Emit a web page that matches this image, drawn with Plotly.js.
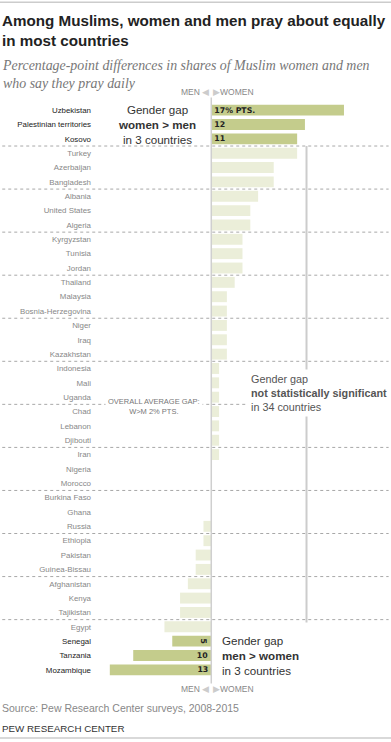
<!DOCTYPE html>
<html>
<head>
<meta charset="utf-8">
<script src="https://cdn.plot.ly/plotly-3.0.1.min.js"></script>
<style>
html,body{margin:0;padding:0;background:#fff;}
#chart{width:391px;height:742px;}
</style>
</head>
<body>
<div id="chart"></div>
<script>
const countries = ["Uzbekistan","Palestinian territories","Kosovo","Turkey","Azerbaijan","Bangladesh","Albania","United States","Algeria","Kyrgyzstan","Tunisia","Jordan","Thailand","Malaysia","Bosnia-Herzegovina","Niger","Iraq","Kazakhstan","Indonesia","Mali","Uganda","Chad","Lebanon","Djibouti","Iran","Nigeria","Morocco","Burkina Faso","Ghana","Russia","Ethiopia","Pakistan","Guinea-Bissau","Afghanistan","Kenya","Tajikistan","Egypt","Senegal","Tanzania","Mozambique"];
const gaps = [17,12,11,11,8,8,6,5,5,4,4,4,3,2,2,2,2,2,1,1,1,1,1,1,1,0,0,0,0,-1,-1,-2,-2,-3,-4,-4,-6,-5,-10,-13];
const significant = [1,1,1,0,0,0,0,0,0,0,0,0,0,0,0,0,0,0,0,0,0,0,0,0,0,0,0,0,0,0,0,0,0,0,0,0,0,1,1,1];
const barLabels = ["17% PTS.","12","11","","","","","","","","","","","","","","","","","","","","","","","","","","","","","","","","","","","5","10","13"];
const groupBreaks = [2.5,5.5,8.5,11.5,14.5,17.5,20.5,23.5,26.5,29.5,32.5,35.5];

const sigColor = "#c4cc8c", nsColor = "#ebeed9";
const sans = "Liberation Sans, Arial, sans-serif";

const trace = {
  type: "bar",
  orientation: "h",
  y: countries,
  x: gaps,
  width: 0.76,
  marker: {color: significant.map(s => s ? sigColor : nsColor), line: {width: 0}},
  text: barLabels,
  textposition: "inside",
  insidetextanchor: "start",
  constraintext: "none",
  textfont: {family: "DejaVu Sans", size: 7.8, color: "#222", weight: "bold"},
  hoverinfo: "none",
  cliponaxis: false
};

const shapes = [];
groupBreaks.forEach(b => shapes.push({
  type: "line", xref: "paper", yref: "y", x0: -0.355, x1: 1.02, y0: b, y1: b,
  line: {color: "#a8a8a8", width: 1, dash: "dot"}, layer: "below"
}));
shapes.push({type: "line", xref: "x", yref: "paper", x0: 0, x1: 0, y0: -0.008, y1: 1.006,
  line: {color: "#cfcfcf", width: 1.5}, layer: "above"});
shapes.push({type: "line", xref: "x", yref: "y", x0: 12.2, x1: 12.2, y0: 2.5, y1: 35.7,
  line: {color: "#cccccc", width: 2}, layer: "below"});
// top and bottom rules
shapes.push({type: "line", xref: "paper", yref: "paper", x0: -0.364, x1: 1.03, y0: 1.171, y1: 1.171, line: {color: "#cccccc", width: 1.5}});
shapes.push({type: "line", xref: "paper", yref: "paper", x0: -0.364, x1: 1.03, y0: -0.102, y1: -0.102, line: {color: "#cccccc", width: 1.5}});

const annotations = [
  {xref: "paper", yref: "paper", x: -0.362, y: 1.157, xanchor: "left", yanchor: "top", showarrow: false, align: "left",
   text: "<b>Among Muslims, women and men pray about equally<br>in most countries</b>",
   font: {family: sans, size: 15.2, color: "#222"}},
  {xref: "paper", yref: "paper", x: -0.362, y: 1.078, xanchor: "left", yanchor: "top", showarrow: false, align: "left",
   text: "<i>Percentage-point differences in shares of Muslim women and men<br>who say they pray daily</i>",
   font: {family: "Liberation Serif, Times New Roman, serif", size: 13.9, color: "#777"}},
  {xref: "x", yref: "paper", x: 0, y: 1.003, xanchor: "right", yanchor: "bottom", showarrow: false,
   text: "MEN <span style='color:#cccccc'>◀</span>", font: {family: sans, size: 8.5, color: "#888"}},
  {xref: "x", yref: "paper", x: 0, y: 1.003, xanchor: "left", yanchor: "bottom", showarrow: false,
   text: "<span style='color:#cccccc'>▶</span>WOMEN", font: {family: sans, size: 8.5, color: "#888"}},
  {xref: "x", yref: "paper", x: 0, y: -0.006, xanchor: "right", yanchor: "top", showarrow: false,
   text: "MEN <span style='color:#cccccc'>◀</span>", font: {family: sans, size: 8.5, color: "#888"}},
  {xref: "x", yref: "paper", x: 0, y: -0.006, xanchor: "left", yanchor: "top", showarrow: false,
   text: "<span style='color:#cccccc'>▶</span>WOMEN", font: {family: sans, size: 8.5, color: "#888"}},
  {xref: "x", yref: "y", x: -6.9, y: 1, xanchor: "center", yanchor: "middle", showarrow: false, align: "center",
   text: "Gender gap<br><b>women > men</b><br>in 3 countries",
   font: {family: sans, size: 11.6, color: "#333"}},
  {xref: "x", yref: "y", x: 1.1, y: 38, xanchor: "left", yanchor: "middle", showarrow: false, align: "left",
   text: "Gender gap<br><b>men > women</b><br>in 3 countries",
   font: {family: sans, size: 11.6, color: "#333"}},
  {xref: "x", yref: "y", x: 4.6, y: 19.7, xanchor: "left", yanchor: "middle", showarrow: false, align: "left",
   text: "Gender gap<br><b>not statistically significant</b><br>in 34 countries", bgcolor: "#ffffff", borderpad: 3,
   font: {family: sans, size: 10.8, color: "#555"}},
  {xref: "x", yref: "y", x: -7.4, y: 20.65, xanchor: "center", yanchor: "middle", showarrow: false, align: "center",
   text: "OVERALL AVERAGE GAP:<br>W>M 2% PTS.", bgcolor: "#ffffff", borderpad: 2,
   font: {family: sans, size: 7.5, color: "#777"}},
  {xref: "paper", yref: "paper", x: -0.362, y: -0.037, xanchor: "left", yanchor: "top", showarrow: false, align: "left",
   text: "Source: Pew Research Center surveys, 2008-2015",
   font: {family: sans, size: 10.5, color: "#888"}},
  {xref: "paper", yref: "paper", x: -0.362, y: -0.073, xanchor: "left", yanchor: "top", showarrow: false, align: "left",
   text: "PEW RESEARCH CENTER",
   font: {family: sans, size: 9.8, color: "#333"}}
];

const layout = {
  width: 391, height: 742,
  margin: {l: 102.3, r: 7.9, t: 101.1, b: 62.9, pad: 0},
  paper_bgcolor: "#fff", plot_bgcolor: "#fff",
  showlegend: false,
  bargap: 0.24,
  xaxis: {range: [-14, 22], showgrid: false, zeroline: false, showticklabels: false, ticks: "", fixedrange: true},
  yaxis: {
    type: "category", autorange: "reversed", showgrid: false, zeroline: false,
    tickmode: "array", tickvals: countries,
    ticktext: countries.map((c, i) => significant[i] ? "<span style='color:#222'>" + c + "</span>" : c),
    ticks: "", ticklabelstandoff: 10,
    tickfont: {family: sans, size: 7.9, color: "#888"},
    automargin: false, fixedrange: true
  },
  shapes: shapes,
  annotations: annotations
};

Plotly.newPlot("chart", [trace], layout, {displayModeBar: false, staticPlot: true});
</script>
</body>
</html>
